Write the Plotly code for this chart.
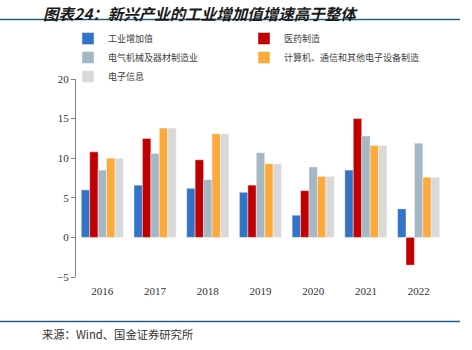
import plotly.graph_objects as go

years = ["2016", "2017", "2018", "2019", "2020", "2021", "2022"]
industrial = [6.0, 6.6, 6.2, 5.7, 2.8, 8.5, 3.6]
pharma = [10.8, 12.5, 9.8, 6.6, 5.9, 15.0, -3.5]
electrical = [8.5, 10.6, 7.3, 10.7, 8.9, 12.8, 11.9]
computer = [10.0, 13.8, 13.1, 9.3, 7.7, 11.6, 7.6]
electronic = [10.0, 13.8, 13.1, 9.3, 7.7, 11.6, 7.6]

names = ["工业增加值", "医药制造", "电气机械及器材制造业", "计算机、通信和其他电子设备制造业", "电子信息"]
series = [industrial, pharma, electrical, computer, electronic]
colors = ["#3273C8", "#C00000", "#A4B7C4", "#FBAA3B", "#D9D9D9"]

fig = go.Figure()
for n, s, c in zip(names, series, colors):
    fig.add_trace(go.Bar(x=years, y=s, name=n, marker=dict(color=c, line=dict(width=0.6, color="rgba(255,255,255,0.7)"))))

L, R, T, B = 76, 27, 79, 73
W = 472 - L - R
H = 350 - T - B
fig.update_layout(
    width=472, height=350,
    margin=dict(l=L, r=R, t=T, b=B, autoexpand=False),
    paper_bgcolor="white", plot_bgcolor="white",
    barmode="group", bargap=0.2, bargroupgap=0,
    showlegend=True,
    legend=dict(orientation="h", x=(68 - L) / W, y=(350 - B - 24) / H,
                xanchor="left", yanchor="top", entrywidth=131, entrywidthmode="pixels",
                bgcolor="rgba(0,0,0,0)",
                font=dict(family="Noto Sans CJK SC", size=9, color="#404040"),
                itemwidth=30, tracegroupgap=0, traceorder="normal"),
    xaxis=dict(type="category", range=[-0.5, 6.5], showline=False, ticks="", showgrid=False,
               tickfont=dict(family="Liberation Serif", size=11, color="#333"), ticklabelstandoff=6),
    xaxis2=dict(overlaying="x", anchor="free", position=0.2, range=[-0.5, 6.5], showline=True,
                linecolor="#808080", linewidth=1, ticks="outside", ticklen=4, tickcolor="#808080",
                tickmode="array", tickvals=[-0.5, 0.5, 1.5, 2.5, 3.5, 4.5, 5.5, 6.5],
                showticklabels=False, showgrid=False, zeroline=False),
    yaxis=dict(range=[-5, 20], dtick=5, showgrid=False, zeroline=False, showline=True,
               linecolor="#808080", linewidth=1, ticks="outside", ticklen=4, tickcolor="#808080",
               tickfont=dict(family="Liberation Serif", size=11, color="#333")),
)

fig.add_annotation(text="图表24：新兴产业的工业增加值增速高于整体", xref="paper", yref="paper",
                   x=(42 - L) / W, y=(350 - B - 0.5) / H, xanchor="left", yanchor="top", showarrow=False,
                   borderpad=0,
                   font=dict(family="Noto Sans CJK SC", size=15.5, color="#1a1a1a", style="italic", weight="bold"))
fig.add_annotation(text="来源：Wind、国金证券研究所", xref="paper", yref="paper",
                   x=(40 - L) / W, y=(350 - B - 334) / H, xanchor="left", yanchor="middle", showarrow=False,
                   font=dict(family="Noto Sans CJK SC", size=11.3, color="#333"))
for py in [19.5, 321.5]:
    fig.add_shape(type="line", xref="paper", yref="paper", x0=(0 - L) / W, x1=(460 - L) / W,
                  y0=(350 - B - py) / H, y1=(350 - B - py) / H, line=dict(color="#1F5F8B", width=1.5))

fig.write_html("out.html")
